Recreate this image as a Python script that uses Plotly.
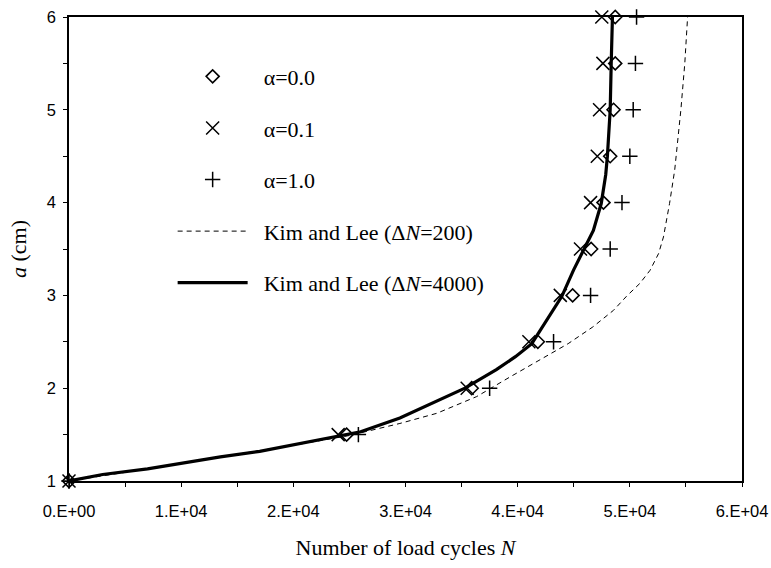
import plotly.graph_objects as go

# Crack length a (cm) at which each alpha case was sampled
a_points = [1.0, 1.5, 2.0, 2.5, 3.0, 3.5, 4.0, 4.5, 5.0, 5.5, 6.0]

# Load cycles N for each alpha
n_alpha_00 = [0, 24750, 35900, 41800, 44900, 46550, 47650, 48250, 48550, 48700, 48700]
n_alpha_01 = [0, 24000, 35500, 41000, 43800, 45600, 46500, 47100, 47300, 47600, 47500]
n_alpha_10 = [0, 25800, 37500, 43200, 46500, 48250, 49300, 50000, 50300, 50500, 50600]

# Kim and Lee reference curve, dN = 200
kim200_n = [0, 7000, 13500, 20000, 25000, 29500, 32800, 36350, 39300, 42400, 44500,
            46700, 48550, 49700, 50900, 51800, 52560, 53000, 53540, 54000, 54300,
            54550, 54900, 55150]
kim200_a = [1.0, 1.13, 1.26, 1.385, 1.49, 1.62, 1.73, 1.91, 2.12, 2.34, 2.48,
            2.66, 2.84, 2.99, 3.13, 3.27, 3.45, 3.63, 3.99, 4.35, 4.7,
            5.0, 5.5, 6.0]

# Kim and Lee reference curve, dN = 4000
kim4000_n = [0, 3000, 7000, 10000, 13500, 17000, 20000, 23500, 26000, 29500, 33100,
             35300, 38100, 39800, 41260, 42600, 43940, 44970, 45860, 46750, 47450,
             47850, 48000, 48250, 48340, 48450]
kim4000_a = [1.0, 1.07, 1.13, 1.19, 1.26, 1.32, 1.39, 1.47, 1.53, 1.68, 1.876,
             2.0, 2.2, 2.34, 2.48, 2.73, 2.99, 3.27, 3.49, 3.70, 3.99,
             4.3, 4.5, 5.0, 5.5, 6.0]

# Axis ticks
x_tickvals = [0, 10000, 20000, 30000, 40000, 50000, 60000]
x_ticktext = ["0.E+00", "1.E+04", "2.E+04", "3.E+04", "4.E+04", "5.E+04", "6.E+04"]
y_tickvals = [1, 2, 3, 4, 5, 6]

serif = "Liberation Serif, Times New Roman, serif"
sans = "Liberation Sans, Arial, sans-serif"
pad = "\u00a0\u00a0"  # small gap between legend symbol and label

fig = go.Figure()

fig.add_trace(go.Scatter(
    x=kim200_n, y=kim200_a, mode="lines",
    name=pad + "Kim and Lee (Δ<i>N</i>=200)",
    line=dict(color="black", width=1, dash="5px,4px"),
    legendgroup="g4", legendrank=4,
))
fig.add_trace(go.Scatter(
    x=kim4000_n, y=kim4000_a, mode="lines",
    name=pad + "Kim and Lee (Δ<i>N</i>=4000)",
    line=dict(color="black", width=3.2),
    legendgroup="g5", legendrank=5,
))
fig.add_trace(go.Scatter(
    x=n_alpha_00, y=a_points, mode="markers", name=pad + "α=0.0",
    marker=dict(symbol="diamond-open", size=10, color="black",
                line=dict(width=1.6, color="black")),
    cliponaxis=False, legendgroup="g1", legendrank=1,
))
fig.add_trace(go.Scatter(
    x=n_alpha_01, y=a_points, mode="markers", name=pad + "α=0.1",
    marker=dict(symbol="x-thin-open", size=13, color="black",
                line=dict(width=1.5, color="black")),
    cliponaxis=False, legendgroup="g2", legendrank=2,
))
fig.add_trace(go.Scatter(
    x=n_alpha_10, y=a_points, mode="markers", name=pad + "α=1.0",
    marker=dict(symbol="cross-thin-open", size=11, color="black",
                line=dict(width=1.5, color="black")),
    cliponaxis=False, legendgroup="g3", legendrank=3,
))

axis_common = dict(
    showline=True, linecolor="black", linewidth=1.5, mirror=True,
    showgrid=False, zeroline=False, automargin=False,
    ticks="outside", ticklen=4, tickwidth=1, tickcolor="black",
    tickfont=dict(family=sans, size=16.5, color="black"),
)

fig.update_xaxes(
    range=[0, 60000], tickvals=x_tickvals, ticktext=x_ticktext,
    minor=dict(dtick=5000, ticks="outside", ticklen=4, tickcolor="black"),
    ticklabelstandoff=10,
    title=dict(text="Number of load cycles <i>N</i>",
               font=dict(family=serif, size=22, color="black"), standoff=21),
    **axis_common,
)
fig.update_yaxes(
    range=[1, 6], tickvals=y_tickvals,
    minor=dict(dtick=0.5, ticks="outside", ticklen=4, tickcolor="black"),
    ticklabelstandoff=4,
    title=dict(text="<i>a</i> (cm)",
               font=dict(family=serif, size=22, color="black"), standoff=14),
    **axis_common,
)

fig.update_layout(
    width=771, height=568,
    margin=dict(l=69, r=29, t=17, b=87),
    paper_bgcolor="white", plot_bgcolor="white",
    showlegend=True,
    legend=dict(
        x=0.154, y=0.917, xanchor="left", yanchor="top",
        bgcolor="rgba(0,0,0,0)", borderwidth=0,
        font=dict(family=serif, size=22, color="black"),
        itemwidth=70, tracegroupgap=20,
    ),
)

fig.write_html("out.html")
